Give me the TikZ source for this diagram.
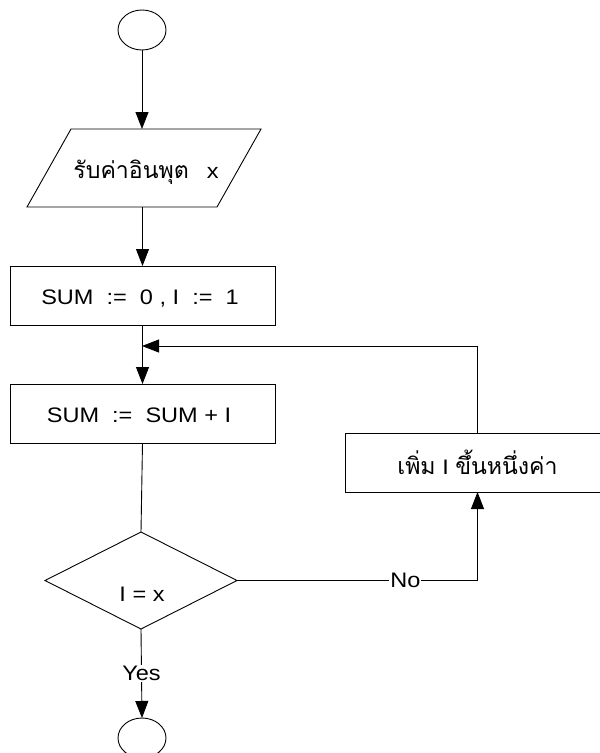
\documentclass[tikz,border=0pt]{standalone}
\usepackage{fontspec}
\setmainfont{Liberation Sans}[FakeStretch=1.12]
\newfontfamily\thai[Script=Thai,Scale=1.1]{Loma}
\usetikzlibrary{shapes.geometric,arrows.meta}

\tikzset{
  flow/.style={draw, line width=0.9pt, inner sep=0pt, outer sep=0pt,
    font=\fontsize{21}{24}\selectfont},
  term/.style={flow, ellipse, minimum width=48, minimum height=40},
  proc/.style={flow, rectangle, minimum width=265, minimum height=59},
  iobody/.style={inner sep=0pt, outer sep=0pt, minimum width=190, minimum height=78},
  dec/.style={flow, diamond, minimum width=192, minimum height=97},
  link/.style={line width=0.9pt, -{Triangle[length=17pt,width=13pt]}},
  wire/.style={line width=0.9pt},
  lbl/.style={fill=white, inner sep=1pt, font=\fontsize{21}{24}\selectfont},
  txt/.style={inner sep=0pt, font=\fontsize{21}{24}\selectfont},
}

\begin{document}
\begin{tikzpicture}[x=1pt,y=1pt]
\useasboundingbox (0,0) rectangle (600,-753);
\clip (0,0) rectangle (600,-753);

% flowchart blocks
\node[term] (start) at (142,-30) {};
\node[iobody] (in) at (144,-168) {};
\draw[wire] ([xshift=-22pt]in.south west) -- ([xshift=-22pt]in.south east)
  -- ([xshift=22pt]in.north east) -- ([xshift=22pt]in.north west) -- cycle;
\node[txt] (intext) at (146,-172) {{\thai รับค่าอินพุต}\hspace{18pt}x};
\node[proc] (init) at (142.5,-295.5) {};
\node[txt] (inittext) at (140,-299) {SUM~~:=~~0 , I~~:=~~1};
\coordinate (loop) at (142,-346);
\node[proc] (acc) at (142.5,-413.5) {};
\node[txt] (acctext) at (139,-415) {SUM~~:=~~SUM + I};
\node[dec] (test) at (141,-580.5) {};
\node[txt] (testtext) at (142,-594) {I = x};
\node[proc] (inc) at (477.5,-462.5) {{\thai เพิ่ม} I {\thai ขึ้นหนึ่งค่า}};
\node[term] (stop) at (142,-738) {};

% connectors
\draw[link] (start.south) -- (start.south |- in.north);
\draw[link] (in.south -| init.north) -- (init.north);
\draw[link] (init.south) -- (acc.north);
\draw[wire] (acc.south) -- (test.north);
\draw[link] (inc.north) |- (loop);
\draw[link] (test.south) -- node[lbl] (yes) {Yes} (stop.north);
\draw[link] (test.east) -- node[lbl, pos=0.7] (no) {No} (test.east -| inc.south) -- (inc.south);
\end{tikzpicture}
\end{document}
